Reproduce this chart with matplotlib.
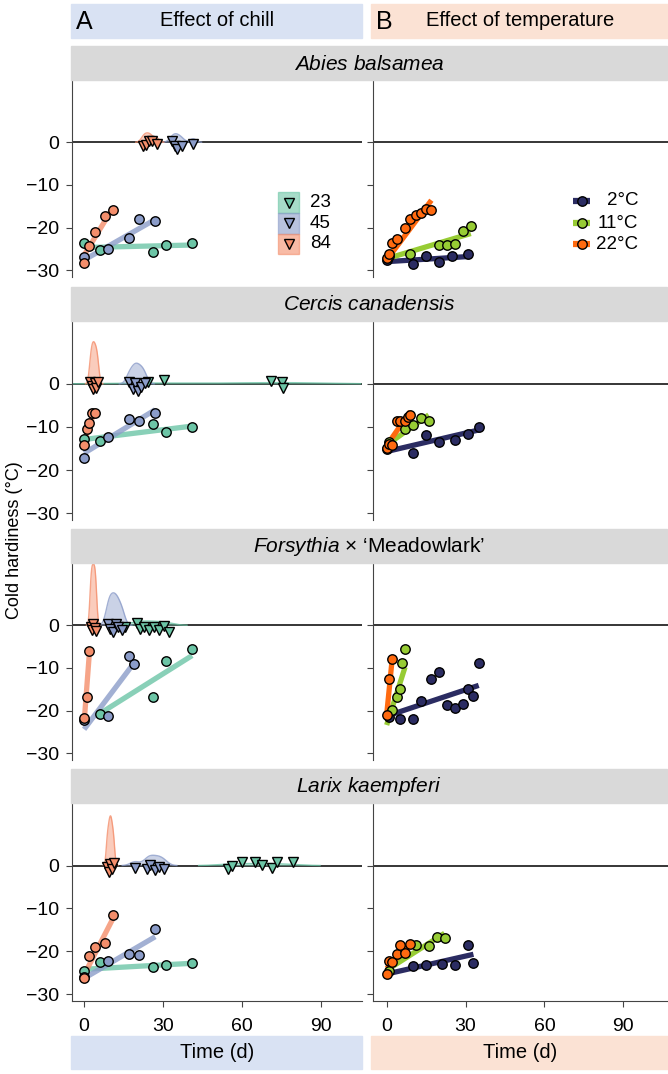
import numpy as np
import matplotlib
matplotlib.use("Agg")
import matplotlib.pyplot as plt
from matplotlib.patches import Rectangle

plt.rcParams['font.family'] = ['Liberation Sans', 'DejaVu Sans']
plt.rcParams['mathtext.fontset'] = 'custom'
plt.rcParams['mathtext.rm'] = 'Liberation Sans'
plt.rcParams['mathtext.it'] = 'Liberation Sans:italic'

# ---- data ----
species = [r'$\it{Abies\ balsamea}$', r'$\it{Cercis\ canadensis}$',
           r'$\it{Forsythia}$ × ‘Meadowlark’', r'$\it{Larix\ kaempferi}$']

chill_groups = ['23', '45', '84']
temp_groups = ['2°C', '11°C', '22°C']

# chill panels: (days, cold hardiness) per chill group, per species
abies_chill_x = {'23': [0, 6, 26, 31, 41], '45': [0, 9, 17, 21, 27], '84': [0, 2, 4, 8, 11]}
abies_chill_y = {'23': [-23.6, -25.3, -25.8, -24.0, -23.7],
                 '45': [-27.0, -25.1, -22.4, -18.1, -18.4],
                 '84': [-28.4, -24.3, -21.0, -17.4, -16.0]}
cercis_chill_x = {'23': [0, 6, 26, 31, 41], '45': [0, 9, 17, 21, 27], '84': [0, 1, 2, 3, 4]}
cercis_chill_y = {'23': [-12.9, -13.2, -9.4, -11.2, -10.1],
                  '45': [-17.3, -12.3, -8.2, -8.5, -6.7],
                  '84': [-14.3, -10.5, -9.1, -6.8, -6.8]}
forsythia_chill_x = {'23': [6, 26, 31, 41], '45': [0, 9, 17, 19], '84': [0, 1, 2]}
forsythia_chill_y = {'23': [-20.9, -16.8, -8.3, -5.6],
                     '45': [-22.3, -21.2, -7.1, -9.1],
                     '84': [-21.7, -16.8, -6.0]}
larix_chill_x = {'23': [0, 6, 26, 31, 41], '45': [0, 9, 17, 21, 27], '84': [0, 2, 4, 8, 11]}
larix_chill_y = {'23': [-24.5, -22.6, -23.6, -23.2, -22.8],
                 '45': [-26.0, -22.3, -20.7, -20.9, -14.9],
                 '84': [-26.3, -21.0, -18.9, -18.0, -11.6]}

# fitted lines (x ends, y ends)
abies_chill_fit = {'23': ([0, 41], [-24.7, -24.1]), '45': ([0, 27], [-27.6, -18.1]), '84': ([0, 11], [-26.5, -15.3])}
cercis_chill_fit = {'23': ([0, 41], [-12.9, -9.8]), '45': ([0, 27], [-16.1, -6.0]), '84': ([0, 4], [-13.5, -6.3])}
forsythia_chill_fit = {'23': ([6, 41], [-20.7, -7.1]), '45': ([0, 19], [-24.4, -8.8]), '84': ([0, 2], [-22.8, -6.5])}
larix_chill_fit = {'23': ([0, 41], [-24.2, -22.8]), '45': ([0, 27], [-26.3, -16.6]), '84': ([0, 11], [-25.5, -12.3])}

# budbreak timing (triangles near 0) and density peak heights
abies_bb_x = {'23': [], '45': [33.2, 34.5, 35.4, 37.0, 41.4], '84': [22.4, 23.5, 24.5, 25.6, 27.6]}
abies_bb_y = {'23': [], '45': [0.4, -0.8, -1.5, -0.8, -0.4], '84': [-0.8, -0.6, 0.3, 0.4, -0.5]}
abies_bb_peak = {'23': 0, '45': 2.0, '84': 2.2}
cercis_bb_x = {'23': [24.4, 30.4, 71.0, 75.1, 75.5], '45': [17.0, 18.5, 19.5, 20.5, 21.7, 23.0],
               '84': [2.4, 3.0, 3.5, 4.0, 4.6, 5.2]}
cercis_bb_y = {'23': [0.5, 0.9, 0.6, 0.5, -0.9], '45': [0.4, -1.2, 0.2, -1.6, -0.8, 0.3],
               '84': [0.5, -0.6, -1.3, 0.3, -0.9, 0.4]}
cercis_bb_peak = {'23': 0.3, '45': 4.8, '84': 9.8}
forsythia_bb_x = {'23': [15.6, 20.0, 21.3, 22.6, 24.5, 26.4, 28.3, 30.2, 32.1],
                  '45': [9.0, 10.0, 11.0, 12.0, 13.0, 14.5], '84': [2.5, 3.0, 3.5, 4.0, 4.5]}
forsythia_bb_y = {'23': [-0.3, 0.5, -0.8, -0.4, -1.0, -0.5, -1.2, -0.2, -1.5],
                  '45': [0.2, -0.8, -1.5, 0.3, -0.5, -1.0], '84': [-0.3, -1.0, 0.2, -0.6, -1.4]}
forsythia_bb_peak = {'23': 1.0, '45': 7.6, '84': 14.4}
larix_bb_x = {'23': [54.7, 56.0, 59.8, 64.8, 67.4, 71.2, 73.1, 79.4],
              '45': [19.3, 24.0, 25.0, 26.9, 28.5, 30.3], '84': [8.8, 9.5, 10.0, 10.5, 11.2]}
larix_bb_y = {'23': [-0.7, -0.15, 0.85, 0.85, 0.1, -0.5, 0.85, 0.85],
              '45': [-0.5, -0.8, 0.1, -1.0, -0.3, -0.7], '84': [-0.3, -1.5, 0.4, -0.8, 0.5]}
larix_bb_peak = {'23': 0.5, '45': 2.4, '84': 11.6}

# temperature panels
abies_temp_x = {'2°C': [0, 10, 15, 20, 25, 31], '11°C': [1, 9, 20, 23, 26, 29, 32],
                '22°C': [0, 1, 2, 4, 7, 9, 11, 13, 15, 17]}
abies_temp_y = {'2°C': [-27.5, -28.5, -26.6, -28.1, -26.6, -26.1],
                '11°C': [-26.7, -26.3, -24.0, -24.0, -23.8, -20.8, -19.7],
                '22°C': [-27.2, -26.2, -23.7, -22.6, -20.2, -17.9, -17.1, -16.7, -15.6, -16.0]}
cercis_temp_x = {'2°C': [0, 10, 15, 20, 26, 31, 35], '11°C': [1, 7, 10, 13, 16],
                 '22°C': [0, 1, 2, 4, 5, 7, 8, 9]}
cercis_temp_y = {'2°C': [-15.2, -16.0, -11.8, -13.6, -13.0, -11.7, -9.9],
                 '11°C': [-13.4, -10.5, -9.5, -8.0, -8.5],
                 '22°C': [-14.8, -14.0, -14.1, -8.5, -8.5, -8.5, -7.6, -7.2]}
forsythia_temp_x = {'2°C': [1, 5, 10, 13, 17, 20, 23, 26, 29, 31, 33, 35], '11°C': [2, 4, 5, 6, 7],
                    '22°C': [0, 1, 2]}
forsythia_temp_y = {'2°C': [-21.5, -21.9, -21.9, -17.7, -12.6, -11.0, -18.8, -19.5, -18.5, -14.9, -16.7, -8.9],
                    '11°C': [-19.9, -16.8, -15.0, -8.8, -5.6],
                    '22°C': [-21.1, -12.7, -7.9]}
larix_temp_x = {'2°C': [10, 15, 21, 26, 31, 33], '11°C': [1, 11, 16, 19, 22],
                '22°C': [0, 1, 2, 4, 5, 7, 9]}
larix_temp_y = {'2°C': [-23.4, -23.2, -23.0, -23.2, -18.5, -22.8],
                '11°C': [-24.6, -18.5, -18.8, -16.7, -17.0],
                '22°C': [-25.3, -22.3, -22.6, -20.6, -18.5, -20.5, -18.3]}

abies_temp_fit = {'2°C': ([0, 31], [-28.0, -26.8]), '11°C': ([0, 32], [-27.3, -21.4]), '22°C': ([0, 17], [-27.6, -13.6])}
cercis_temp_fit = {'2°C': ([0, 35], [-15.7, -10.7]), '11°C': ([0, 16], [-14.2, -7.2]), '22°C': ([0, 9], [-14.3, -6.4])}
forsythia_temp_fit = {'2°C': ([1, 35], [-21.1, -14.1]), '11°C': ([0, 7], [-23.4, -9.8]), '22°C': ([0, 2], [-21.0, -8.5])}
larix_temp_fit = {'2°C': ([0, 33], [-25.3, -20.7]), '11°C': ([0, 22], [-24.4, -15.8]), '22°C': ([0, 9], [-24.0, -18.5])}

chill_x = [abies_chill_x, cercis_chill_x, forsythia_chill_x, larix_chill_x]
chill_y = [abies_chill_y, cercis_chill_y, forsythia_chill_y, larix_chill_y]
chill_fit = [abies_chill_fit, cercis_chill_fit, forsythia_chill_fit, larix_chill_fit]
bb_x = [abies_bb_x, cercis_bb_x, forsythia_bb_x, larix_bb_x]
bb_y = [abies_bb_y, cercis_bb_y, forsythia_bb_y, larix_bb_y]
bb_peak = [abies_bb_peak, cercis_bb_peak, forsythia_bb_peak, larix_bb_peak]
temp_x = [abies_temp_x, cercis_temp_x, forsythia_temp_x, larix_temp_x]
temp_y = [abies_temp_y, cercis_temp_y, forsythia_temp_y, larix_temp_y]
temp_fit = [abies_temp_fit, cercis_temp_fit, forsythia_temp_fit, larix_temp_fit]

chill_colors = {'23': '#6cc5a6', '45': '#8b9cc9', '84': '#f48e6b'}
temp_colors = {'2°C': '#2b2c62', '11°C': '#97cc34', '22°C': '#ff6a10'}

# ---- layout (pixels) ----
W, H = 668, 1074
fig = plt.figure(figsize=(W / 100, H / 100), dpi=100)


def fbox(x0, y0, x1, y1):
    return [x0 / W, 1 - y1 / H, (x1 - x0) / W, (y1 - y0) / H]


def rect(x0, y0, x1, y1, color):
    fig.patches.append(Rectangle((x0 / W, 1 - y1 / H), (x1 - x0) / W, (y1 - y0) / H,
                                 transform=fig.transFigure, color=color, zorder=0))


def kde(xs, grid):
    xs = np.asarray(xs, float)
    sd = xs.std(ddof=1)
    q75, q25 = np.percentile(xs, [75, 25])
    s = min(sd, (q75 - q25) / 1.34) if q75 > q25 else sd
    bw = 0.9 * s * len(xs) ** -0.2
    d = np.exp(-0.5 * ((grid[:, None] - xs[None, :]) / bw) ** 2).sum(axis=1)
    return d / d.max()


tops = [80, 321, 563, 803]
bots = [277, 520, 760, 1001]

rect(71, 4, 362, 38, '#d9e2f3')
rect(371, 4, 668, 38, '#fbe2d4')
fig.text(76 / W, 1 - 22 / H, 'A', fontsize=18, va='center', ha='left')
fig.text(217 / W, 1 - 21 / H, 'Effect of chill', fontsize=14.5, va='center', ha='center')
fig.text(376 / W, 1 - 22 / H, 'B', fontsize=18, va='center', ha='left')
fig.text(520 / W, 1 - 21 / H, 'Effect of temperature', fontsize=14.5, va='center', ha='center')

rect(71, 1036, 362, 1069, '#d9e2f3')
rect(371, 1036, 668, 1069, '#fbe2d4')
fig.text(217 / W, 1 - 1053 / H, 'Time (d)', fontsize=14.5, va='center', ha='center')
fig.text(520 / W, 1 - 1053 / H, 'Time (d)', fontsize=14.5, va='center', ha='center')

fig.text(15 / W, 1 - 540 / H, 'Cold hardiness (°C)', fontsize=13, rotation=90,
         va='center', ha='center')

grid = np.linspace(-5, 105, 600)

for i in range(4):
    top, bot = tops[i], bots[i]
    rect(71, top - 34, 667, top, '#d9d9d9')
    fig.text(369 / W, 1 - (top - 16) / H, species[i], fontsize=15, va='center', ha='center')

    axL = fig.add_axes(fbox(72, top, 362, bot))
    axR = fig.add_axes(fbox(373, top, 668, bot))
    for ax, xl in ((axL, (-4.6, 105.5)), (axR, (-5.2, 107.0))):
        ax.set_xlim(*xl)
        ax.set_ylim(-31.6, 14.6)
        ax.set_facecolor('none')
        for s in ('top', 'right'):
            ax.spines[s].set_visible(False)
        ax.spines['left'].set_color('#444444')
        ax.spines['bottom'].set_color('#444444')
        ax.spines['bottom'].set_visible(i == 3)
        ax.set_yticks([0, -10, -20, -30])
        ax.set_xticks([0, 30, 60, 90])
        ax.tick_params(direction='out', length=4, width=0.8, colors='#444444',
                       labelcolor='black', labelsize=14)
        ax.tick_params(axis='x', pad=8)
        ax.tick_params(axis='y', pad=5)
        ax.axhline(0, color='black', lw=1.1, zorder=1)
        if i != 3:
            ax.tick_params(axis='x', bottom=False, labelbottom=False)
    axR.tick_params(axis='y', labelleft=False)

    # chill panel
    for g in chill_groups:
        c = chill_colors[g]
        xs = bb_x[i][g]
        if xs:
            d = kde(xs, grid) * bb_peak[i][g]
            axL.fill_between(grid, 0, d, where=d > 0.02, color=c, alpha=0.45, lw=0, zorder=2)
            axL.plot(grid[d > 0.02], d[d > 0.02], color=c, lw=1, alpha=0.8, zorder=2)
    for g in chill_groups:
        xs = bb_x[i][g]
        if xs:
            axL.plot(xs, bb_y[i][g], 'v', ms=7.5, mfc=chill_colors[g], mec='black',
                     mew=1, zorder=4, clip_on=False)
    for g in chill_groups:
        fx, fy = chill_fit[i][g]
        axL.plot(fx, fy, color=chill_colors[g], lw=3.8, alpha=0.8, solid_capstyle='butt', zorder=3)
    for g in chill_groups:
        axL.plot(chill_x[i][g], chill_y[i][g], 'o', ms=6.8, mfc=chill_colors[g], mec='black',
                 mew=1, zorder=5, clip_on=False)

    # temperature panel
    for g in temp_groups:
        fx, fy = temp_fit[i][g]
        axR.plot(fx, fy, color=temp_colors[g], lw=3.8, solid_capstyle='butt', zorder=3)
        axR.plot(temp_x[i][g], temp_y[i][g], 'o', ms=6.8, mfc=temp_colors[g], mec='black',
                 mew=1, zorder=4, clip_on=False)

    if i == 0:
        # chill legend
        for k, g in enumerate(chill_groups):
            yc = [202.7, 223.3, 244.0][k]
            x0 = 278
            axL.add_patch(Rectangle(((x0 - 72) / 290, (bot - yc - 10.3) / (bot - top)),
                                    21 / 290, 20.6 / (bot - top), transform=axL.transAxes,
                                    facecolor=chill_colors[g], edgecolor=chill_colors[g],
                                    alpha=0.6, lw=1, zorder=6))
            axL.plot([(288.5 - 72) / 290], [(bot - yc) / (bot - top)], 'v', ms=7.5,
                     mfc=chill_colors[g], mec='black', mew=1, transform=axL.transAxes, zorder=7)
            axL.text((310 - 72) / 290, (bot - yc) / (bot - top), g, transform=axL.transAxes,
                     fontsize=13.5, va='center', ha='left')
        # temperature legend
        for k, g in enumerate(temp_groups):
            yc = [200.7, 223.3, 244.3][k]
            yy = (bot - yc) / (bot - top)
            axR.plot([(573 - 373) / 295, (590 - 373) / 295], [yy, yy], color=temp_colors[g],
                     lw=4.5, solid_capstyle='butt', transform=axR.transAxes)
            axR.plot([(581.7 - 373) / 295], [yy], 'o', ms=6.8, mfc=temp_colors[g], mec='black',
                     mew=1, transform=axR.transAxes)
            axR.text((638 - 373) / 295, yy, g, transform=axR.transAxes, fontsize=13.5,
                     va='center', ha='right')

fig.savefig('out.png', dpi=100)
